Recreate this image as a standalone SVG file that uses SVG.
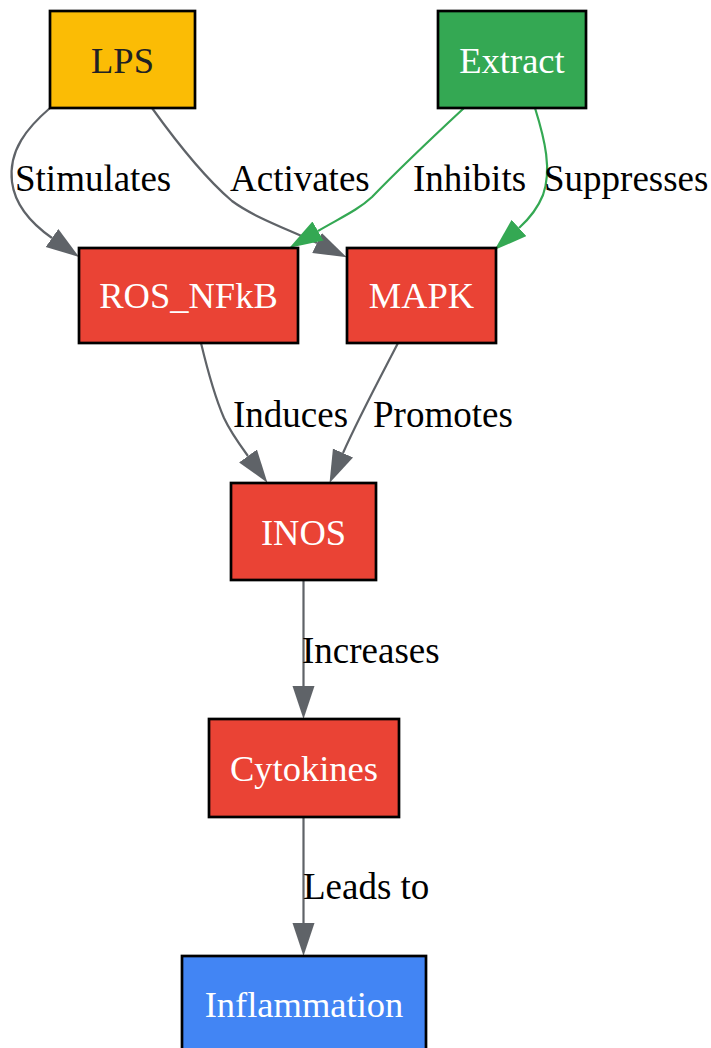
<svg xmlns="http://www.w3.org/2000/svg" width="711" height="1048" viewBox="0 0 711 1048">
<style>
.box{stroke:#000;stroke-width:2.7}
.nt{font-family:"Liberation Serif","Times New Roman",serif;font-size:36.5px;text-anchor:middle;fill:#fff}
.el{font-family:"Liberation Serif","Times New Roman",serif;font-size:37px;fill:#000}
.eg{fill:none;stroke:#5F6368;stroke-width:2.2}
.egr{fill:none;stroke:#34A853;stroke-width:2.2}
</style>
<defs>
<marker id="ag" markerUnits="userSpaceOnUse" markerWidth="34" markerHeight="23" refX="0" refY="11" orient="auto" viewBox="0 0 34 23">
<path d="M0,0 L33,11 L0,22 z" fill="#5F6368"/>
</marker>
<marker id="agr" markerUnits="userSpaceOnUse" markerWidth="34" markerHeight="23" refX="0" refY="11" orient="auto" viewBox="0 0 34 23">
<path d="M0,0 L33,11 L0,22 z" fill="#34A853"/>
</marker>
</defs>
<rect width="711" height="1048" fill="#fff"/>
<g id="connectors">
<path class="eg" marker-end="url(#ag)" d="M50,108 C28,127 8,150 12,182 C15,205 32,224 52,238"/>
<path class="eg" marker-end="url(#ag)" d="M152,108 C175,140 205,178 232,201 C255,218 290,230 317,243"/>
<path class="egr" marker-end="url(#agr)" d="M464,108 C435,135 400,168 372,197 C358,210 342,217 318,231"/>
<path class="egr" marker-end="url(#agr)" d="M535,108 C545,140 552,170 543,195 C537,210 529,219 519,228"/>
<path class="eg" marker-end="url(#ag)" d="M201,343 C207,368 214,395 224,418 C231,433 240,445 248,456"/>
<path class="eg" marker-end="url(#ag)" d="M398,343 C380,378 360,415 343,453"/>
<path class="eg" marker-end="url(#ag)" d="M303.5,580 L303.5,686"/>
<path class="eg" marker-end="url(#ag)" d="M303.5,817 L303.5,923"/>
<text class="el" x="15" y="191">Stimulates</text>
<text class="el" x="230" y="191">Activates</text>
<text class="el" x="413" y="191">Inhibits</text>
<text class="el" x="544" y="191">Suppresses</text>
<text class="el" x="233" y="427">Induces</text>
<text class="el" x="373" y="427">Promotes</text>
<text class="el" x="302" y="663">Increases</text>
<text class="el" x="303" y="899">Leads to</text>
</g>
<g id="LPS">
<rect class="box" x="50" y="11" width="145" height="97" fill="#FBBC05"/>
<text class="nt" x="122.5" y="73" style="fill:#202124">LPS</text>
</g>
<g id="Extract">
<rect class="box" x="438" y="11" width="148" height="97" fill="#34A853"/>
<text class="nt" x="512" y="73">Extract</text>
</g>
<g id="ROS_NFkB">
<rect class="box" x="79" y="248" width="219" height="95" fill="#EA4335"/>
<text class="nt" x="188.5" y="308">ROS_NFkB</text>
</g>
<g id="MAPK">
<rect class="box" x="347" y="248" width="149" height="95" fill="#EA4335"/>
<text class="nt" x="421.5" y="308">MAPK</text>
</g>
<g id="INOS">
<rect class="box" x="231" y="483" width="145" height="97" fill="#EA4335"/>
<text class="nt" x="303.5" y="545">INOS</text>
</g>
<g id="Cytokines">
<rect class="box" x="209" y="719" width="190" height="98" fill="#EA4335"/>
<text class="nt" x="304" y="781">Cytokines</text>
</g>
<g id="Inflammation">
<rect class="box" x="182" y="956" width="244" height="97" fill="#4285F4"/>
<text class="nt" x="304" y="1017">Inflammation</text>
</g>
</svg>
